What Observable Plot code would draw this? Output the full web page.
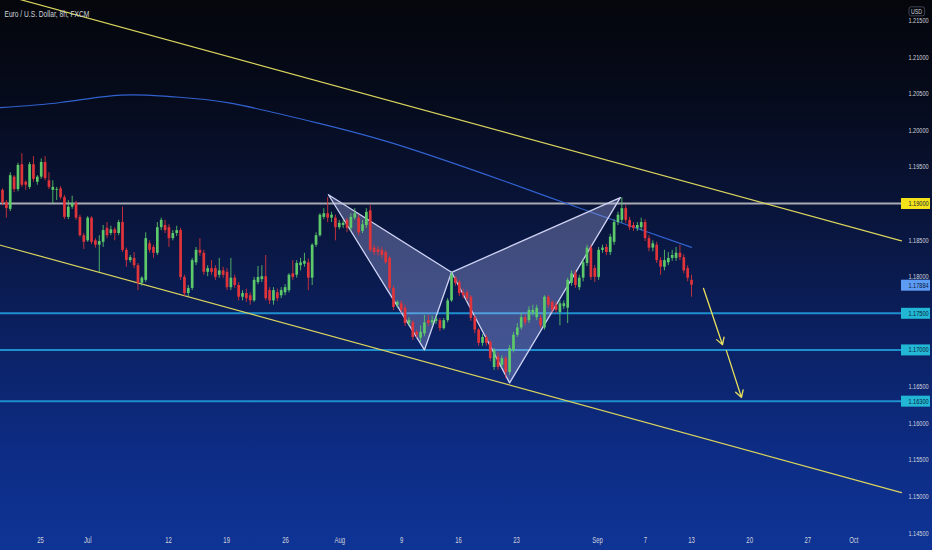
<!DOCTYPE html>
<html><head><meta charset="utf-8">
<script src="https://cdn.jsdelivr.net/npm/d3@7"></script>
<script src="https://cdn.jsdelivr.net/npm/@observablehq/plot@0.6"></script>
<style>html,body{margin:0;padding:0;background:#0a1a4a;overflow:hidden}#chart svg{display:block}</style>
</head><body><div id="chart"></div>
<script>
// 8h EUR/USD candles (bar index 0..178)
const opens = [1.1918,1.1901,1.1892,1.1936,1.1919,1.1953,1.1929,1.1922,1.1953,1.1929,
1.1936,1.1956,1.1931,1.1918,1.1918,1.1920,1.1908,1.1881,1.1895,1.1900,
1.1881,1.1856,1.1849,1.1880,1.1849,1.1843,1.1847,1.1866,1.1859,1.1864,
1.1859,1.1874,1.1836,1.1822,1.1825,1.1815,1.1791,1.1795,1.1845,1.1840,
1.1832,1.1867,1.1870,1.1867,1.1852,1.1859,1.1863,1.1799,1.1777,1.1784,
1.1819,1.1836,1.1832,1.1806,1.1811,1.1811,1.1802,1.1808,1.1806,1.1785,
1.1798,1.1788,1.1772,1.1777,1.1774,1.1767,1.1792,1.1796,1.1800,1.1781,
1.1767,1.1778,1.1774,1.1778,1.1781,1.1804,1.1802,1.1815,1.1817,1.1819,
1.1798,1.1843,1.1856,1.1881,1.1886,1.1880,1.1880,1.1867,1.1870,1.1877,
1.1866,1.1880,1.1880,1.1862,1.1870,1.1890,1.1839,1.1837,1.1836,1.1833,
1.1825,1.1784,1.1761,1.1763,1.1757,1.1736,1.1737,1.1724,1.1716,1.1722,
1.1740,1.1737,1.1739,1.1740,1.1729,1.1740,1.1767,1.1798,1.1792,1.1778,
1.1778,1.1772,1.1744,1.1727,1.1709,1.1717,1.1710,1.1676,1.1690,1.1679,
1.1688,1.1669,1.1699,1.1720,1.1730,1.1744,1.1740,1.1750,1.1744,1.1743,
1.1730,1.1772,1.1765,1.1761,1.1751,1.1759,1.1757,1.1791,1.1804,1.1785,
1.1798,1.1818,1.1839,1.1811,1.1799,1.1836,1.1840,1.1833,1.1847,1.1874,
1.1877,1.1893,1.1877,1.1870,1.1866,1.1867,1.1874,1.1852,1.1839,1.1843,
1.1822,1.1813,1.1819,1.1825,1.1825,1.1832,1.1826,1.1811,1.1795];
const highs = [1.1920,1.1904,1.1942,1.1938,1.1955,1.1968,1.1931,1.1956,1.1964,1.1938,
1.1961,1.1964,1.1942,1.1931,1.1922,1.1923,1.1911,1.1904,1.1910,1.1903,
1.1884,1.1859,1.1882,1.1882,1.1852,1.1856,1.1870,1.1874,1.1869,1.1867,
1.1877,1.1895,1.1839,1.1829,1.1833,1.1818,1.1800,1.1860,1.1849,1.1843,
1.1874,1.1880,1.1877,1.1871,1.1863,1.1869,1.1866,1.1802,1.1788,1.1825,
1.1840,1.1852,1.1836,1.1815,1.1822,1.1815,1.1825,1.1813,1.1811,1.1825,
1.1802,1.1792,1.1781,1.1783,1.1778,1.1799,1.1814,1.1815,1.1829,1.1785,
1.1785,1.1783,1.1785,1.1789,1.1804,1.1822,1.1822,1.1825,1.1832,1.1824,
1.1845,1.1860,1.1886,1.1893,1.1908,1.1888,1.1884,1.1877,1.1877,1.1880,
1.1886,1.1893,1.1884,1.1877,1.1893,1.1897,1.1843,1.1841,1.1840,1.1836,
1.1828,1.1787,1.1767,1.1767,1.1761,1.1744,1.1740,1.1727,1.1733,1.1747,
1.1747,1.1746,1.1747,1.1743,1.1743,1.1770,1.1806,1.1800,1.1795,1.1783,
1.1781,1.1774,1.1747,1.1729,1.1721,1.1720,1.1713,1.1702,1.1696,1.1692,
1.1691,1.1706,1.1724,1.1736,1.1750,1.1748,1.1759,1.1761,1.1761,1.1747,
1.1774,1.1774,1.1767,1.1765,1.1767,1.1767,1.1798,1.1808,1.1808,1.1802,
1.1824,1.1843,1.1843,1.1815,1.1840,1.1843,1.1844,1.1858,1.1878,1.1888,
1.1908,1.1897,1.1881,1.1874,1.1874,1.1880,1.1878,1.1856,1.1849,1.1847,
1.1826,1.1836,1.1833,1.1836,1.1840,1.1843,1.1830,1.1815,1.1802];
const lows = [1.1897,1.1880,1.1889,1.1915,1.1916,1.1922,1.1918,1.1919,1.1929,1.1925,
1.1933,1.1931,1.1919,1.1900,1.1904,1.1905,1.1878,1.1878,1.1892,1.1877,
1.1854,1.1837,1.1847,1.1844,1.1839,1.1806,1.1840,1.1852,1.1856,1.1849,
1.1856,1.1833,1.1813,1.1819,1.1811,1.1781,1.1787,1.1792,1.1832,1.1825,
1.1829,1.1863,1.1859,1.1840,1.1849,1.1855,1.1795,1.1773,1.1773,1.1781,
1.1815,1.1828,1.1802,1.1800,1.1802,1.1795,1.1798,1.1798,1.1781,1.1781,
1.1784,1.1767,1.1767,1.1765,1.1761,1.1765,1.1789,1.1792,1.1767,1.1762,
1.1761,1.1766,1.1770,1.1774,1.1778,1.1795,1.1798,1.1808,1.1813,1.1781,
1.1788,1.1840,1.1854,1.1878,1.1874,1.1874,1.1849,1.1864,1.1866,1.1860,
1.1862,1.1877,1.1856,1.1859,1.1866,1.1833,1.1829,1.1828,1.1825,1.1817,
1.1781,1.1754,1.1757,1.1750,1.1732,1.1732,1.1713,1.1716,1.1710,1.1718,
1.1732,1.1733,1.1735,1.1725,1.1727,1.1737,1.1765,1.1787,1.1773,1.1770,
1.1766,1.1739,1.1722,1.1705,1.1705,1.1705,1.1684,1.1672,1.1672,1.1675,
1.1661,1.1665,1.1696,1.1717,1.1727,1.1733,1.1736,1.1746,1.1740,1.1729,
1.1727,1.1757,1.1750,1.1750,1.1733,1.1755,1.1736,1.1787,1.1784,1.1781,
1.1793,1.1814,1.1795,1.1792,1.1795,1.1832,1.1829,1.1829,1.1843,1.1870,
1.1873,1.1873,1.1863,1.1862,1.1862,1.1863,1.1848,1.1834,1.1834,1.1818,
1.1802,1.1808,1.1815,1.1821,1.1821,1.1822,1.1804,1.1793,1.1772];
const closes = [1.1901,1.1893,1.1938,1.1919,1.1952,1.1925,1.1925,1.1953,1.1933,1.1936,
1.1956,1.1934,1.1922,1.1922,1.1919,1.1908,1.1881,1.1895,1.1900,1.1880,
1.1856,1.1847,1.1880,1.1847,1.1843,1.1848,1.1863,1.1856,1.1864,1.1859,
1.1874,1.1836,1.1822,1.1826,1.1815,1.1791,1.1798,1.1852,1.1836,1.1832,
1.1867,1.1877,1.1863,1.1852,1.1859,1.1863,1.1799,1.1777,1.1784,1.1822,
1.1836,1.1832,1.1806,1.1811,1.1806,1.1799,1.1808,1.1802,1.1785,1.1798,
1.1788,1.1772,1.1777,1.1770,1.1767,1.1795,1.1799,1.1800,1.1770,1.1767,
1.1781,1.1770,1.1781,1.1785,1.1802,1.1799,1.1818,1.1819,1.1821,1.1798,
1.1843,1.1856,1.1884,1.1886,1.1880,1.1884,1.1867,1.1873,1.1873,1.1866,
1.1881,1.1886,1.1860,1.1871,1.1888,1.1836,1.1833,1.1833,1.1829,1.1819,
1.1784,1.1758,1.1765,1.1754,1.1736,1.1740,1.1717,1.1720,1.1724,1.1737,
1.1736,1.1740,1.1742,1.1729,1.1740,1.1767,1.1802,1.1791,1.1777,1.1774,
1.1770,1.1743,1.1727,1.1709,1.1717,1.1709,1.1688,1.1699,1.1676,1.1688,
1.1669,1.1702,1.1720,1.1730,1.1744,1.1737,1.1754,1.1754,1.1757,1.1733,
1.1772,1.1761,1.1754,1.1754,1.1763,1.1763,1.1795,1.1804,1.1788,1.1798,
1.1819,1.1839,1.1799,1.1799,1.1836,1.1839,1.1833,1.1854,1.1874,1.1884,
1.1893,1.1877,1.1867,1.1866,1.1870,1.1874,1.1852,1.1839,1.1845,1.1822,
1.1813,1.1822,1.1825,1.1829,1.1832,1.1826,1.1808,1.1798,1.17884];

// Moving average (blue line)
const maBar = [-0.52, 15.0, 30.5, 43.4, 58.9, 82.1, 102.8, 129.4, 144.1, 159.6, 178];
const maVal = [1.2031, 1.2038, 1.2048, 1.2046, 1.2037, 1.2009, 1.1979, 1.1931, 1.1903, 1.1874, 1.1840];

// Channel trendlines (yellow)
const upperBar = [-0.52, 232.24], upperVal = [1.2186, 1.1849];
const lowerBar = [-0.52, 232.24], lowerVal = [1.1843, 1.1505];

// Harmonic pattern points X A B C D
const patName = ["X","A","B","C","D"];
const patBar = [84.2, 109.0, 116.0, 131.0, 159.6];
const patVal = [1.1912, 1.1700, 1.1806, 1.1655, 1.1908];

// Projection arrows
const arrowBar1 = [181.1, 187.0], arrowVal1 = [1.1784, 1.1699];
const arrowBar2 = [186.0, 190.9], arrowVal2 = [1.1707, 1.1635];

// Horizontal levels
const levelWhite = 1.19;
const levelsCyan = [1.175, 1.17, 1.163];
const lastPrice = 1.17884;

// Axis ticks (1.19000, 1.17500, 1.17000 are shown by their level tags)
const priceTicks = [1.215,1.21,1.205,1.2,1.195,1.185,1.18,1.165,1.16,1.155,1.15,1.145];
const dateTickBar = [9.8, 22.0, 42.9, 57.9, 73.1, 87.1, 103.1, 117.8, 132.8, 153.7, 166.1, 178, 193, 208, 219.9];
const dateTickLabel = ["25","Jul","12","19","26","Aug","9","16","23","Sep","7","13","20","27","Oct"];

const titleText = "Euro / U.S. Dollar, 8h, FXCM";
const currency = "USD";

// ---- build tables ----
const candles = opens.map((o, i) => ({i, o, h: highs[i], l: lows[i], c: closes[i], up: closes[i] >= o}));
const ma = maBar.map((b, k) => ({b, v: maVal[k]}));
const upper = upperBar.map((b, k) => ({b, v: upperVal[k]}));
const lower = lowerBar.map((b, k) => ({b, v: lowerVal[k]}));
const pts = patName.map((n, k) => ({n, b: patBar[k], v: patVal[k]}));
const tri = [
  ...[0,1,2].map(k => ({...pts[k], t: "XAB"})),
  ...[2,3,4].map(k => ({...pts[k], t: "BCD"}))
];
const arrows = [0,1].map(k => ({b1: arrowBar1[k], v1: arrowVal1[k], b2: arrowBar2[k], v2: arrowVal2[k]}));
const boxes = [
  {v: levelWhite, t: levelWhite.toFixed(5), bg: "#f3e21a"},
  {v: lastPrice, t: lastPrice.toFixed(5), bg: "#5d9cf5"},
  ...levelsCyan.map(v => ({v, t: v.toFixed(5), bg: "#22b7d5"}))
];
const dates = dateTickBar.map((b, k) => ({b, t: dateTickLabel[k]}));

const GREEN = "#5cc96a", RED = "#e0343a", TXT = "#d1d4dc";
const FONT = "'Liberation Sans','DejaVu Sans',sans-serif";

const chart = Plot.plot({
  width: 932, height: 550,
  marginTop: 0, marginBottom: 0, marginLeft: 0, marginRight: 31,
  x: {type: "linear", domain: [-0.5167, 232.24], axis: null},
  y: {type: "linear", domain: [1.14260, 1.21773], axis: null},
  style: {
    background: "linear-gradient(180deg,#04060b 0%,#060b1c 18%,#09153c 40%,#0b2163 62%,#0d2c84 82%,#0e3496 100%)",
    fontFamily: FONT, overflow: "visible"
  },
  marks: [
    Plot.ruleY(levelsCyan, {stroke: "#1f8fcf", strokeWidth: 2}),
    Plot.ruleY([levelWhite], {stroke: "#a9abb3", strokeWidth: 2}),
    Plot.line(upper, {x: "b", y: "v", stroke: "#d9d35e", strokeWidth: 1.2}),
    Plot.line(lower, {x: "b", y: "v", stroke: "#d9d35e", strokeWidth: 1.2}),
    Plot.line(ma, {x: "b", y: "v", curve: "natural", stroke: "#3162cf", strokeWidth: 1.2}),
    Plot.line(tri, {x: "b", y: "v", z: "t", curve: "linear-closed", fill: "#b9bdf5", fillOpacity: 0.32, stroke: "#cfd3f4", strokeWidth: 1.3}),
    Plot.ruleX(candles, {x: "i", y1: "l", y2: "h", stroke: d => d.up ? GREEN : RED, strokeWidth: 1, strokeOpacity: 0.85}),
    Plot.ruleX(candles, {x: "i", y1: "o", y2: "c", stroke: d => d.up ? GREEN : RED, strokeWidth: 2.7}),
    Plot.arrow(arrows, {x1: "b1", y1: "v1", x2: "b2", y2: "v2", stroke: "#e6de5c", strokeWidth: 1.3, headLength: 9}),
    // price tag backgrounds in the right-hand price column
    Plot.ruleY(boxes, {y: "v", stroke: d => d.bg, strokeWidth: 11, insetLeft: 872, dx: 29}),
    Plot.text(priceTicks, {y: d => d, text: d => d.toFixed(5), frameAnchor: "right", textAnchor: "end", dx: 27, fill: TXT, fontSize: 8}),
    Plot.text(boxes, {y: "v", text: "t", frameAnchor: "right", textAnchor: "end", dx: 27, fill: "#0c1a38", fontSize: 8}),
    Plot.text(dates, {x: "b", text: "t", frameAnchor: "bottom", dy: -8, fill: TXT, fontSize: 8.5}),
    Plot.text([titleText], {frameAnchor: "top-left", textAnchor: "start", dx: 4, dy: 10, fill: TXT, fontSize: 9.5}),
    Plot.text([currency], {frameAnchor: "top-right", textAnchor: "middle", dx: 15, dy: 8, fill: TXT, fontSize: 7.5})
  ]
});
document.getElementById("chart").appendChild(chart);

// TradingView uses a condensed face: squeeze every label horizontally about its anchor
const svgEl = chart.tagName.toLowerCase() === "svg" ? chart : chart.querySelector("svg");
const SQ = 0.7;
Array.from(svgEl.querySelectorAll("text")).forEach(t => {
  const parent = t.parentNode;
  const b = t.getBBox();
  const anchor = getComputedStyle(t).textAnchor;
  const lx = anchor === "end" ? b.x + b.width : anchor === "middle" ? b.x + b.width / 2 : b.x;
  const m = parent.getCTM().inverse().multiply(t.getCTM());
  const p = new DOMPoint(lx, b.y + b.height / 2).matrixTransform(m);
  const g = document.createElementNS("http://www.w3.org/2000/svg", "g");
  g.setAttribute("transform", `translate(${p.x},0) scale(${SQ},1) translate(${-p.x},0)`);
  parent.insertBefore(g, t);
  g.appendChild(t);
  if (t.textContent === currency) {
    const r = document.createElementNS("http://www.w3.org/2000/svg", "rect");
    r.setAttribute("x", b.x - 3); r.setAttribute("y", b.y);
    r.setAttribute("width", b.width + 6); r.setAttribute("height", b.height);
    r.setAttribute("rx", 2.5); r.setAttribute("fill", "none"); r.setAttribute("stroke", "#4a5060");
    const tr = t.getAttribute("transform"); if (tr) r.setAttribute("transform", tr);
    g.insertBefore(r, t);
  }
});
</script>
</body></html>
